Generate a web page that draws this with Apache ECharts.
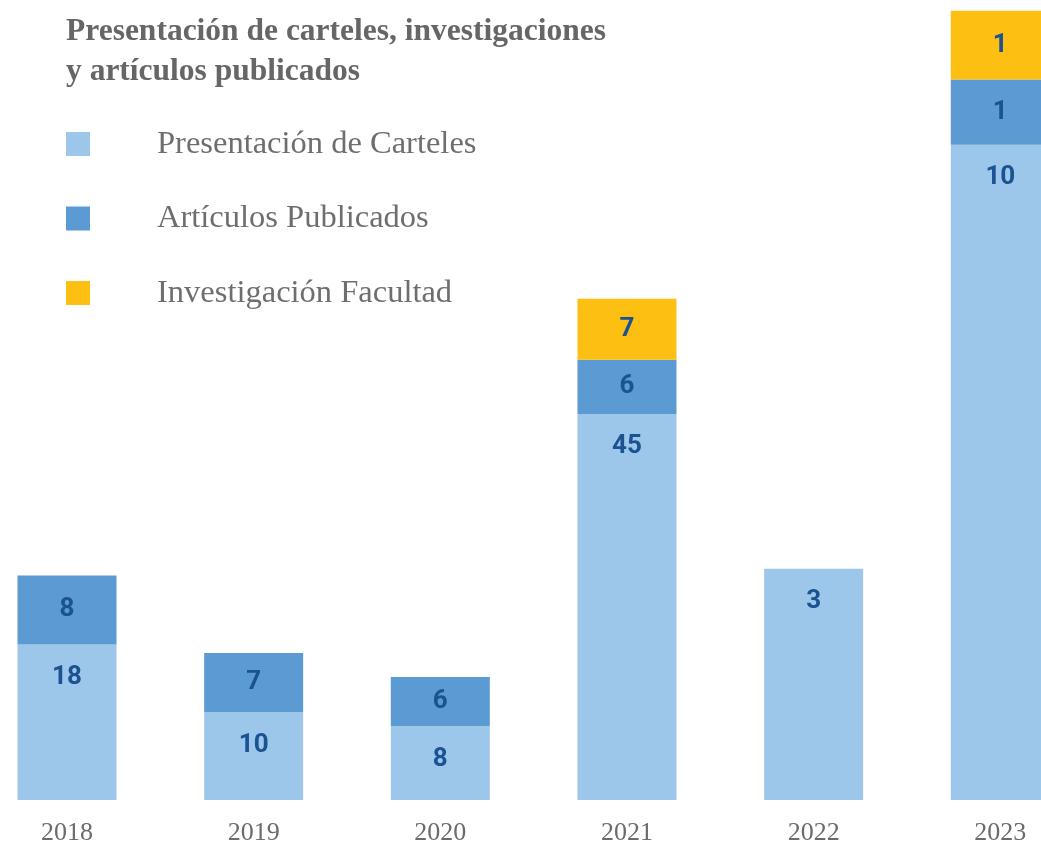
<!DOCTYPE html>
<html>
<head>
<meta charset="utf-8">
<script src="https://cdn.jsdelivr.net/npm/echarts@6/dist/echarts.min.js"></script>
<style>
html,body{margin:0;padding:0;background:#fff;}
#chart{width:1041px;height:847px;}
</style>
</head>
<body>
<div id="chart"></div>
<script>
// Categories
var years = ['2018', '2019', '2020', '2021', '2022', '2023'];
// Values printed on each segment
var cartelesValores = [18, 10, 8, 45, 3, 10];
var articulosValores = [8, 7, 6, 6, null, 1];
var investigacionValores = [null, null, null, 7, null, 1];
// Segment heights as drawn in the picture (the bars are not to scale with the printed numbers)
var cartelesAltura = [18.1, 10.2, 8.6, 44.9, 26.9, 76.2];
var articulosAltura = [8.0, 6.9, 5.7, 6.3, null, 7.6];
var investigacionAltura = [null, null, null, 7.1, null, 8.0];

var seriesNames = ['Presentación de Carteles', 'Artículos Publicados', 'Investigación Facultad'];
var colors = ['#9DC7EA', '#5B9AD2', '#FDBF12'];

var labelStyleBase = {
  show: true,
  color: '#1A5292',
  fontFamily: 'Roboto',
  fontWeight: 'bold',
  fontSize: 26
};

function mkSeries(name, heights, values, color, pos) {
  return {
    name: name,
    type: 'bar',
    stack: 'total',
    barWidth: 99,
    clip: false,
    itemStyle: { color: color },
    label: Object.assign({}, labelStyleBase, {
      position: pos,
      distance: pos === 'insideTop' ? 20 : 5,
      formatter: function (p) { var v = values[p.dataIndex]; return v == null ? '' : String(v); }
    }),
    data: heights
  };
}

var chart = echarts.init(document.getElementById('chart'), null, { renderer: 'canvas' });
chart.setOption({
  animation: false,
  color: colors,
  title: {
    text: 'Presentación de carteles, investigaciones\ny artículos publicados',
    left: 61,
    top: 7,
    textStyle: {
      fontFamily: 'Liberation Serif',
      fontWeight: 'bold',
      fontSize: 31.5,
      lineHeight: 40,
      color: '#666666'
    }
  },
  legend: {
    orient: 'vertical',
    left: 66,
    top: 127.5,
    padding: 0,
    icon: 'rect',
    itemWidth: 24,
    itemHeight: 24,
    itemGap: 41.5,
    selectedMode: false,
    data: seriesNames,
    textStyle: {
      fontFamily: 'Liberation Serif',
      fontSize: 32.5,
      lineHeight: 24,
      color: '#6E6E6E',
      padding: [0, 0, 0, 62]
    }
  },
  grid: { left: 67, right: 40.7, top: 9, bottom: 47 },
  xAxis: {
    type: 'category',
    data: years,
    boundaryGap: false,
    axisLine: { show: false },
    axisTick: { show: false },
    splitLine: { show: false },
    axisLabel: {
      margin: 20,
      fontFamily: 'Liberation Serif',
      fontSize: 26,
      color: '#6B6B6B'
    }
  },
  yAxis: {
    type: 'value',
    min: 0,
    max: 92,
    show: false,
    splitLine: { show: false }
  },
  series: [
    mkSeries(seriesNames[0], cartelesAltura, cartelesValores, colors[0], 'insideTop'),
    mkSeries(seriesNames[1], articulosAltura, articulosValores, colors[1], 'inside'),
    mkSeries(seriesNames[2], investigacionAltura, investigacionValores, colors[2], 'inside')
  ]
});
</script>
</body>
</html>
